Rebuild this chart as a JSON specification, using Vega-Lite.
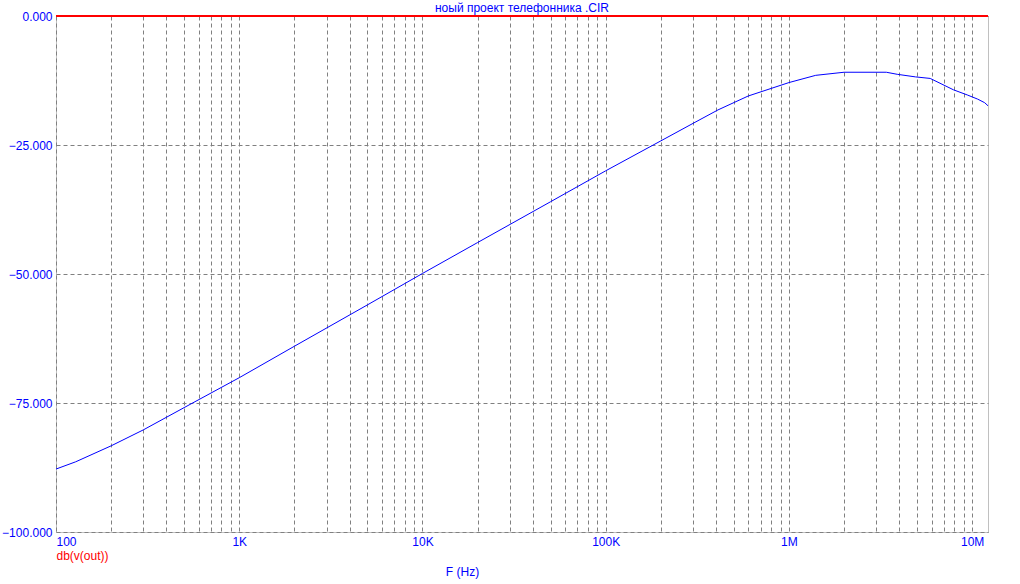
{
  "$schema": "https://vega.github.io/schema/vega-lite/v6.json",
  "width": 932,
  "height": 516,
  "autosize": {"type": "none"},
  "padding": {"left": 56, "top": 16, "right": 32, "bottom": 52},
  "background": "white",
  "title": {
    "text": "ноый проект телефонника .CIR",
    "color": "#0000FF",
    "font": "Liberation Sans",
    "fontSize": 12,
    "fontWeight": "normal",
    "anchor": "middle",
    "baseline": "alphabetic",
    "offset": -14
  },
  "config": {
    "view": {"stroke": "#808080", "strokeDash": [1, 1], "strokeWidth": 1}
  },
  "data": {
    "values": [
      {"f": 100, "db": -87.8},
      {"f": 128, "db": -86.4},
      {"f": 200, "db": -83.3},
      {"f": 300, "db": -80.2},
      {"f": 500, "db": -75.9},
      {"f": 1000, "db": -70.1},
      {"f": 2000, "db": -64.0},
      {"f": 5000, "db": -56.0},
      {"f": 10000, "db": -49.9},
      {"f": 20000, "db": -43.9},
      {"f": 50000, "db": -36.0},
      {"f": 100000, "db": -30.0},
      {"f": 200000, "db": -24.2},
      {"f": 300000, "db": -20.8},
      {"f": 410000, "db": -18.2},
      {"f": 600000, "db": -15.5},
      {"f": 1000000, "db": -12.9},
      {"f": 1400000, "db": -11.5},
      {"f": 2000000, "db": -10.9},
      {"f": 3400000, "db": -10.9},
      {"f": 3900000, "db": -11.3},
      {"f": 4900000, "db": -11.8},
      {"f": 5900000, "db": -12.1},
      {"f": 7900000, "db": -14.3},
      {"f": 9400000, "db": -15.3},
      {"f": 10700000, "db": -16.1},
      {"f": 11700000, "db": -16.8},
      {"f": 12200000, "db": -17.4}
    ]
  },
  "layer": [
    {
      "mark": {"type": "line", "color": "#0000FF", "strokeWidth": 1, "clip": true},
      "encoding": {
        "x": {
          "field": "f",
          "type": "quantitative",
          "scale": {"type": "log", "domain": [100, 12200000], "nice": false},
          "axis": {
            "values": [100, 200, 300, 400, 500, 600, 700, 800, 900,
                       1000, 2000, 3000, 4000, 5000, 6000, 7000, 8000, 9000,
                       10000, 20000, 30000, 40000, 50000, 60000, 70000, 80000, 90000,
                       100000, 200000, 300000, 400000, 500000, 600000, 700000, 800000, 900000,
                       1000000, 2000000, 3000000, 4000000, 5000000, 6000000, 7000000, 8000000, 9000000,
                       10000000],
            "labelExpr": "datum.value == 100 ? '100' : datum.value == 1000 ? '1K' : datum.value == 10000 ? '10K' : datum.value == 100000 ? '100K' : datum.value == 1000000 ? '1M' : datum.value == 10000000 ? '10M' : ''",
            "grid": true,
            "gridColor": "#808080",
            "gridDash": [4, 3],
            "gridOpacity": 1,
            "ticks": false,
            "domain": false,
            "labelColor": "#0000FF",
            "labelFont": "Liberation Sans",
            "labelFontSize": 12,
            "labelFlush": true,
            "labelOverlap": false,
            "labelPadding": 4,
            "title": "F (Hz)",
            "titleColor": "#0000FF",
            "titleFont": "Liberation Sans",
            "titleFontSize": 12,
            "titleFontWeight": "normal",
            "titleX": 406,
            "titleY": 39,
            "titleAlign": "center",
            "titleBaseline": "middle"
          }
        },
        "y": {
          "field": "db",
          "type": "quantitative",
          "scale": {"domain": [-100, 0], "nice": false},
          "axis": {
            "values": [-100, -75, -50, -25, 0],
            "format": ".3f",
            "grid": true,
            "gridColor": "#808080",
            "gridDash": [4, 3],
            "gridOpacity": 1,
            "ticks": false,
            "domain": false,
            "labelColor": "#0000FF",
            "labelFont": "Liberation Sans",
            "labelFontSize": 12,
            "labelFlush": false,
            "labelOverlap": false,
            "labelPadding": 4,
            "title": "db(v(out))",
            "titleColor": "#FF0000",
            "titleFont": "Liberation Sans",
            "titleFontSize": 12,
            "titleFontWeight": "normal",
            "titleAngle": 0,
            "titleX": 0,
            "titleY": 539,
            "titleAlign": "left",
            "titleBaseline": "middle"
          }
        }
      }
    },
    {
      "mark": {"type": "rule", "color": "#FF0000", "strokeWidth": 1},
      "encoding": {"y": {"datum": 0}}
    }
  ]
}
